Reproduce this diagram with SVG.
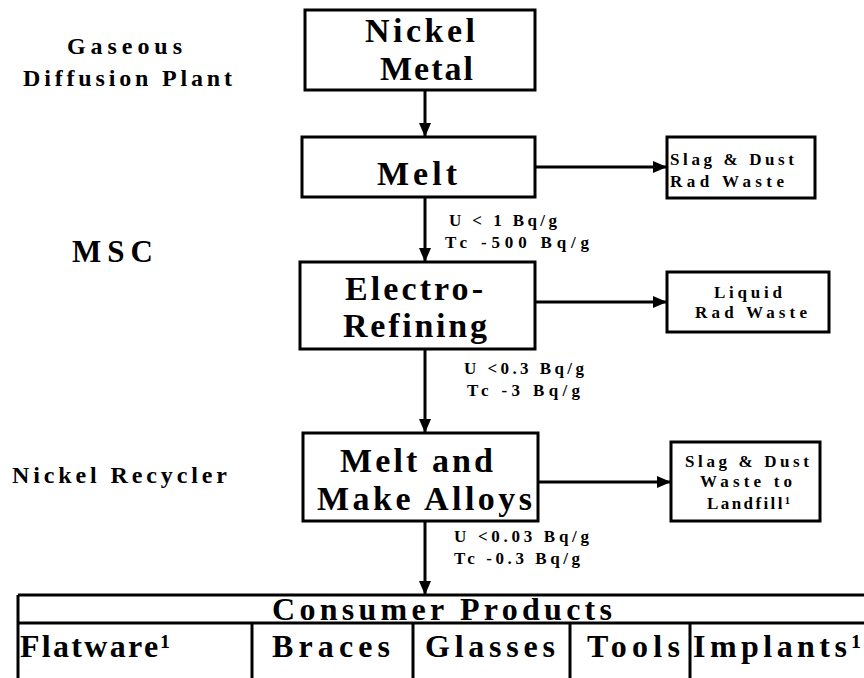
<svg xmlns="http://www.w3.org/2000/svg" width="864" height="678" viewBox="0 0 864 678">
<defs>
<style>
text{font-family:'Liberation Serif','DejaVu Serif','Times New Roman',serif;font-weight:bold;fill:#000}
.box{fill:#fff;stroke:#000;stroke-width:3}
.big{font-size:34px}
.side{font-size:24px}
.sm{font-size:17px}
.tab{font-size:32px}
.ln{stroke:#000;stroke-width:3;fill:none}
</style>
<marker id="ah" markerWidth="14" markerHeight="12" refX="13" refY="6" orient="auto" markerUnits="userSpaceOnUse">
<path d="M0,0 L14,6 L0,12 Z" fill="#000"/>
</marker>
</defs>
<rect width="864" height="678" fill="#fff"/>

<g id="side-labels">
<text class="side" x="67" y="54" textLength="115" lengthAdjust="spacing">Gaseous</text>
<text class="side" x="23" y="86" textLength="209" lengthAdjust="spacing">Diffusion Plant</text>
<text class="side" x="72" y="262" style="font-size:31px" textLength="81" lengthAdjust="spacing">MSC</text>
<text class="side" x="12" y="483" textLength="215" lengthAdjust="spacing">Nickel Recycler</text>
</g>

<g id="nickel-metal">
<rect class="box" x="305" y="10" width="230" height="80"/>
<text class="big" x="365" y="42" textLength="110" lengthAdjust="spacing">Nickel</text>
<text class="big" x="380" y="80" textLength="93" lengthAdjust="spacing">Metal</text>
</g>

<g id="melt">
<rect class="box" x="302" y="137" width="233" height="60"/>
<text class="big" x="377" y="185" textLength="80" lengthAdjust="spacing">Melt</text>
</g>

<g id="slag-rad">
<rect class="box" x="667" y="137" width="148" height="61"/>
<text class="sm" x="670" y="165" textLength="124" lengthAdjust="spacing">Slag &amp; Dust</text>
<text class="sm" x="670" y="187" textLength="114" lengthAdjust="spacing">Rad Waste</text>
</g>

<g id="electro-refining">
<rect class="box" x="300" y="262" width="235" height="87"/>
<text class="big" x="345" y="300" textLength="138" lengthAdjust="spacing">Electro-</text>
<text class="big" x="343" y="337" textLength="144" lengthAdjust="spacing">Refining</text>
</g>

<g id="liquid-rad">
<rect class="box" x="667" y="272" width="162" height="60"/>
<text class="sm" x="714" y="298" textLength="68" lengthAdjust="spacing">Liquid</text>
<text class="sm" x="695" y="318" textLength="112" lengthAdjust="spacing">Rad Waste</text>
</g>

<g id="melt-alloys">
<rect class="box" x="303" y="433" width="235" height="88"/>
<text class="big" x="340" y="472" textLength="153" lengthAdjust="spacing">Melt and</text>
<text class="big" x="317" y="510" textLength="215" lengthAdjust="spacing">Make Alloys</text>
</g>

<g id="slag-landfill">
<rect class="box" x="671" y="442" width="149" height="79"/>
<text class="sm" x="685" y="467" textLength="124" lengthAdjust="spacing">Slag &amp; Dust</text>
<text class="sm" x="700" y="487" textLength="92" lengthAdjust="spacing">Waste to</text>
<text class="sm" x="707" y="509" textLength="83" lengthAdjust="spacing">Landfill¹</text>
</g>

<g id="flow-labels">
<text class="sm" x="449" y="226" textLength="108" lengthAdjust="spacing">U &lt; 1 Bq/g</text>
<text class="sm" x="445" y="248" textLength="144" lengthAdjust="spacing">Tc  -500 Bq/g</text>
<text class="sm" x="464" y="374" textLength="120" lengthAdjust="spacing">U &lt;0.3 Bq/g</text>
<text class="sm" x="467" y="396" textLength="113" lengthAdjust="spacing">Tc -3 Bq/g</text>
<text class="sm" x="454" y="542" textLength="135" lengthAdjust="spacing">U &lt;0.03 Bq/g</text>
<text class="sm" x="454" y="564" textLength="126" lengthAdjust="spacing">Tc -0.3 Bq/g</text>
</g>

<g id="consumer-products">
<path class="ln" d="M18,595 H864 M18,623 H864 M18,595 V678 M252,623 V678 M413,623 V678 M570,623 V678 M690,623 V678"/>
<text class="tab" x="272" y="620" textLength="340" lengthAdjust="spacing">Consumer Products</text>
<text class="tab" x="20" y="657" textLength="150" lengthAdjust="spacing">Flatware¹</text>
<text class="tab" x="272" y="657" textLength="118" lengthAdjust="spacing">Braces</text>
<text class="tab" x="425" y="657" textLength="130" lengthAdjust="spacing">Glasses</text>
<text class="tab" x="587" y="657" textLength="93" lengthAdjust="spacing">Tools</text>
<text class="tab" x="693" y="657" textLength="168" lengthAdjust="spacing">Implants¹</text>
</g>

<g id="connectors">
<line class="ln" x1="425" y1="90" x2="425" y2="136" marker-end="url(#ah)"/>
<line class="ln" x1="425" y1="197" x2="425" y2="261" marker-end="url(#ah)"/>
<line class="ln" x1="425" y1="349" x2="425" y2="432" marker-end="url(#ah)"/>
<line class="ln" x1="425" y1="521" x2="425" y2="594" marker-end="url(#ah)"/>
<line class="ln" x1="535" y1="167" x2="666" y2="167" marker-end="url(#ah)"/>
<line class="ln" x1="535" y1="302" x2="666" y2="302" marker-end="url(#ah)"/>
<line class="ln" x1="538" y1="482" x2="670" y2="482" marker-end="url(#ah)"/>
</g>
</svg>
